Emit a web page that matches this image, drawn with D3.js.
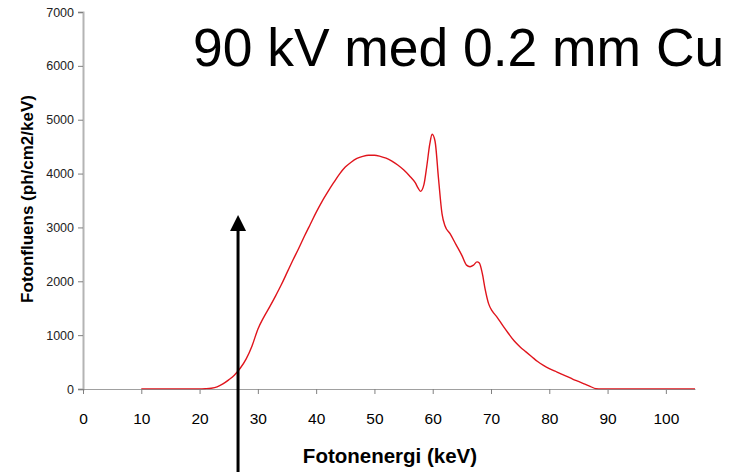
<!DOCTYPE html>
<html>
<head>
<meta charset="utf-8">
<script src="https://cdn.jsdelivr.net/npm/d3@7/dist/d3.min.js"></script>
<style>
  body { margin: 0; background: #fff; }
  text { font-family: Arial, "Liberation Sans", sans-serif; }
</style>
</head>
<body>
<svg id="chart" width="736" height="472"></svg>
<script>
// photon energy (keV) and fluence
const energy = [10, 20, 21, 22, 23, 24, 25, 26, 27, 28, 29, 30, 31, 32, 33, 34, 35, 36, 37, 38, 39,
  40, 41, 42, 43, 44, 45, 46, 47, 48, 49, 50, 51, 52, 53, 54, 55, 56, 57, 57.5, 57.9, 58.5, 59, 59.5,
  59.9, 60.4, 61, 61.6, 62.1, 63, 64, 65, 65.8, 66.4, 67, 67.6, 68, 68.5, 69, 69.6, 70.2, 71, 72, 73,
  74, 75, 76, 77, 78, 79, 80, 81, 82, 83, 84, 85, 86, 87, 88, 89, 105];
const fluence = [0, 0, 5, 15, 40, 95, 170, 260, 390, 560, 800, 1110, 1330, 1520, 1720, 1930, 2160,
  2390, 2610, 2840, 3060, 3280, 3480, 3660, 3830, 3990, 4120, 4210, 4280, 4320, 4340, 4340, 4320,
  4285, 4230, 4160, 4070, 3960, 3830, 3730, 3670, 3800, 4150, 4550, 4730, 4600, 3900, 3250, 3030,
  2880, 2680, 2480, 2300, 2270, 2300, 2360, 2340, 2150, 1850, 1580, 1450, 1340, 1180, 1030, 890,
  780, 690, 600, 510, 440, 380, 330, 280, 235, 185, 140, 95, 50, 5, 0, 0];

const xTicks = [0, 10, 20, 30, 40, 50, 60, 70, 80, 90, 100];
const yTicks = [0, 1000, 2000, 3000, 4000, 5000, 6000, 7000];

// arrow marker position (keV) and the fluence level of its tip
const arrowEnergy = 26.6;
const arrowTop = 3230;

const svg = d3.select("#chart");

const x = d3.scaleLinear().domain([0, 105]).range([83, 695]);
const y = d3.scaleLinear().domain([0, 7000]).range([389, 12]);

// y axis
const yAxis = svg.append("g")
  .attr("transform", "translate(83,0)")
  .call(d3.axisLeft(y).tickValues(yTicks).tickFormat(d3.format("d")).tickSize(5).tickPadding(4));
yAxis.select(".domain").attr("stroke", "#b4b4b4").attr("stroke-width", 2);
yAxis.selectAll(".tick line").attr("stroke", "#808080");
yAxis.selectAll(".tick text")
  .attr("fill", "#222")
  .style("font-size", "12.5px");

// the spectrum
const line = d3.line()
  .x((d, i) => x(energy[i]))
  .y(d => y(d))
  .curve(d3.curveMonotoneX);

svg.append("path")
  .datum(fluence)
  .attr("fill", "none")
  .attr("stroke", "#e0141c")
  .attr("stroke-width", 1.4)
  .attr("d", line);

// x axis, drawn over the flat ends of the curve
const xAxis = svg.append("g")
  .attr("transform", "translate(0,389)")
  .call(d3.axisBottom(x).tickValues(xTicks).tickSize(5).tickSizeOuter(0).tickPadding(19));
xAxis.select(".domain").attr("stroke", "#808080").attr("stroke-opacity", 0.75);
xAxis.selectAll(".tick line").attr("stroke", "#808080");
xAxis.selectAll(".tick text")
  .attr("fill", "#000")
  .style("font-size", "15.5px");

// axis titles
svg.append("text")
  .attr("x", 390)
  .attr("y", 463)
  .attr("text-anchor", "middle")
  .style("font-size", "20.5px")
  .style("font-weight", "bold")
  .text("Fotonenergi (keV)");

svg.append("text")
  .attr("transform", "translate(33,199) rotate(-90)")
  .attr("text-anchor", "middle")
  .style("font-size", "17px")
  .style("font-weight", "bold")
  .text("Fotonfluens (ph/cm2/keV)");

// chart title
svg.append("text")
  .attr("x", 193)
  .attr("y", 66)
  .style("font-size", "53.4px")
  .text("90 kV med 0.2 mm Cu");

// arrow pointing up at the marked energy
const ax = x(arrowEnergy);
const ay = y(arrowTop);
svg.append("line")
  .attr("x1", ax).attr("x2", ax)
  .attr("y1", 472).attr("y2", ay + 12)
  .attr("stroke", "#000")
  .attr("stroke-width", 3);
svg.append("path")
  .attr("d", `M${ax},${ay} L${ax - 8},${ay + 16} L${ax + 8},${ay + 16} Z`)
  .attr("fill", "#000");
</script>
</body>
</html>
